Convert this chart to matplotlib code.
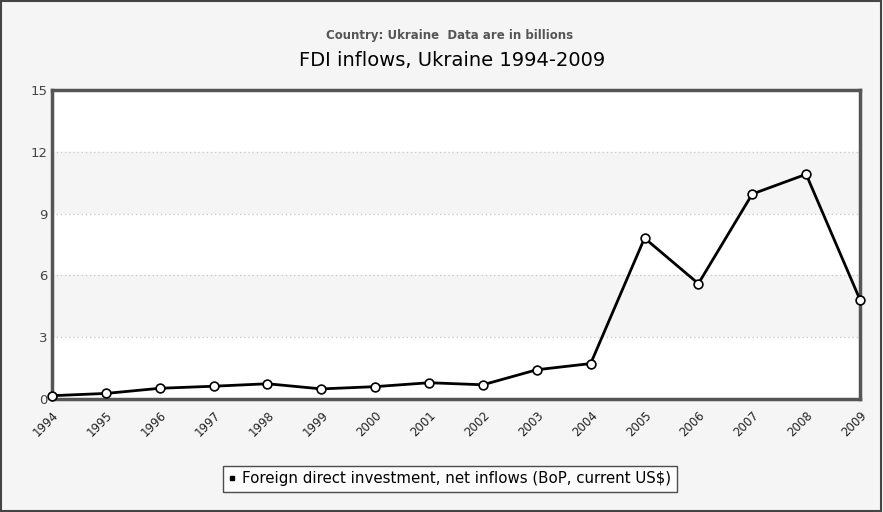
import matplotlib
matplotlib.use("Agg")
import matplotlib.pyplot as plt
from matplotlib.patches import Rectangle

years = [1994, 1995, 1996, 1997, 1998, 1999, 2000, 2001, 2002, 2003, 2004, 2005, 2006, 2007, 2008, 2009]
fdi = [0.16, 0.27, 0.52, 0.62, 0.74, 0.49, 0.60, 0.79, 0.69, 1.42, 1.72, 7.81, 5.60, 9.95, 10.91, 4.82]
y_ticks = [0, 3, 6, 9, 12, 15]
subtitle = "Country: Ukraine  Data are in billions"
title = "FDI inflows, Ukraine 1994-2009"
series_name = "Foreign direct investment, net inflows (BoP, current US$)"

bg = "#f5f5f5"
fig = plt.figure(figsize=(8.83, 5.12), dpi=100, facecolor=bg)
# outer frame
fig.patches.append(Rectangle((0.001, 0.001), 0.997, 0.997, transform=fig.transFigure,
                             fill=False, edgecolor="#444444", linewidth=1.5))

W, H = 883, 512
ax = fig.add_axes([52 / W, 1 - 399 / H, (860 - 52) / W, (399 - 90) / H])
ax.set_facecolor("white")

# alternating bands
for i in range(len(y_ticks) - 1):
    if i % 2 == 1:
        ax.axhspan(y_ticks[i], y_ticks[i + 1], color=bg, zorder=0, lw=0)
for t in y_ticks[1:-1]:
    ax.axhline(t, color="#cccccc", lw=1, ls=(0, (1, 2)), zorder=1)

ax.plot(years, fdi, color="black", lw=2, marker="o", ms=6.3,
        mfc="white", mec="black", mew=1.2, zorder=3, clip_on=False,
        label=series_name)

ax.set_xlim(years[0], years[-1])
ax.set_ylim(0, 15)
ax.set_yticks(y_ticks)
ax.set_xticks(years)
ax.set_xticklabels([str(y) for y in years], rotation=45, ha="right",
                   rotation_mode="anchor", fontsize=8.5, color="#222222")
ax.tick_params(axis="y", length=0, labelsize=9.5, labelcolor="#444444", pad=3)
ax.tick_params(axis="x", length=0, pad=7)
for s in ax.spines.values():
    s.set_color("#555555")
    s.set_linewidth(2.5)

fig.text(450 / W, 1 - 35 / H, subtitle, ha="center", va="center",
         fontsize=8.5, color="#555555", fontweight="bold",
         family=["Liberation Sans Narrow", "DejaVu Sans"])
fig.text(452 / W, 1 - 61 / H, title, ha="center", va="center",
         fontsize=14, color="black")

leg = fig.legend(handles=[plt.Line2D([], [], ls="none", marker="s", ms=3.5,
                                     color="black")],
                 labels=[series_name], loc="center", bbox_to_anchor=(450 / W, 1 - 479 / H),
                 fontsize=10.8, frameon=True, fancybox=False, handlelength=0.5,
                 handletextpad=0.4, borderpad=0.35, borderaxespad=0)
leg.get_frame().set_edgecolor("#222222")
leg.get_frame().set_facecolor("white")
leg.get_frame().set_linewidth(1)

fig.savefig("out.png", dpi=100, facecolor=bg)
